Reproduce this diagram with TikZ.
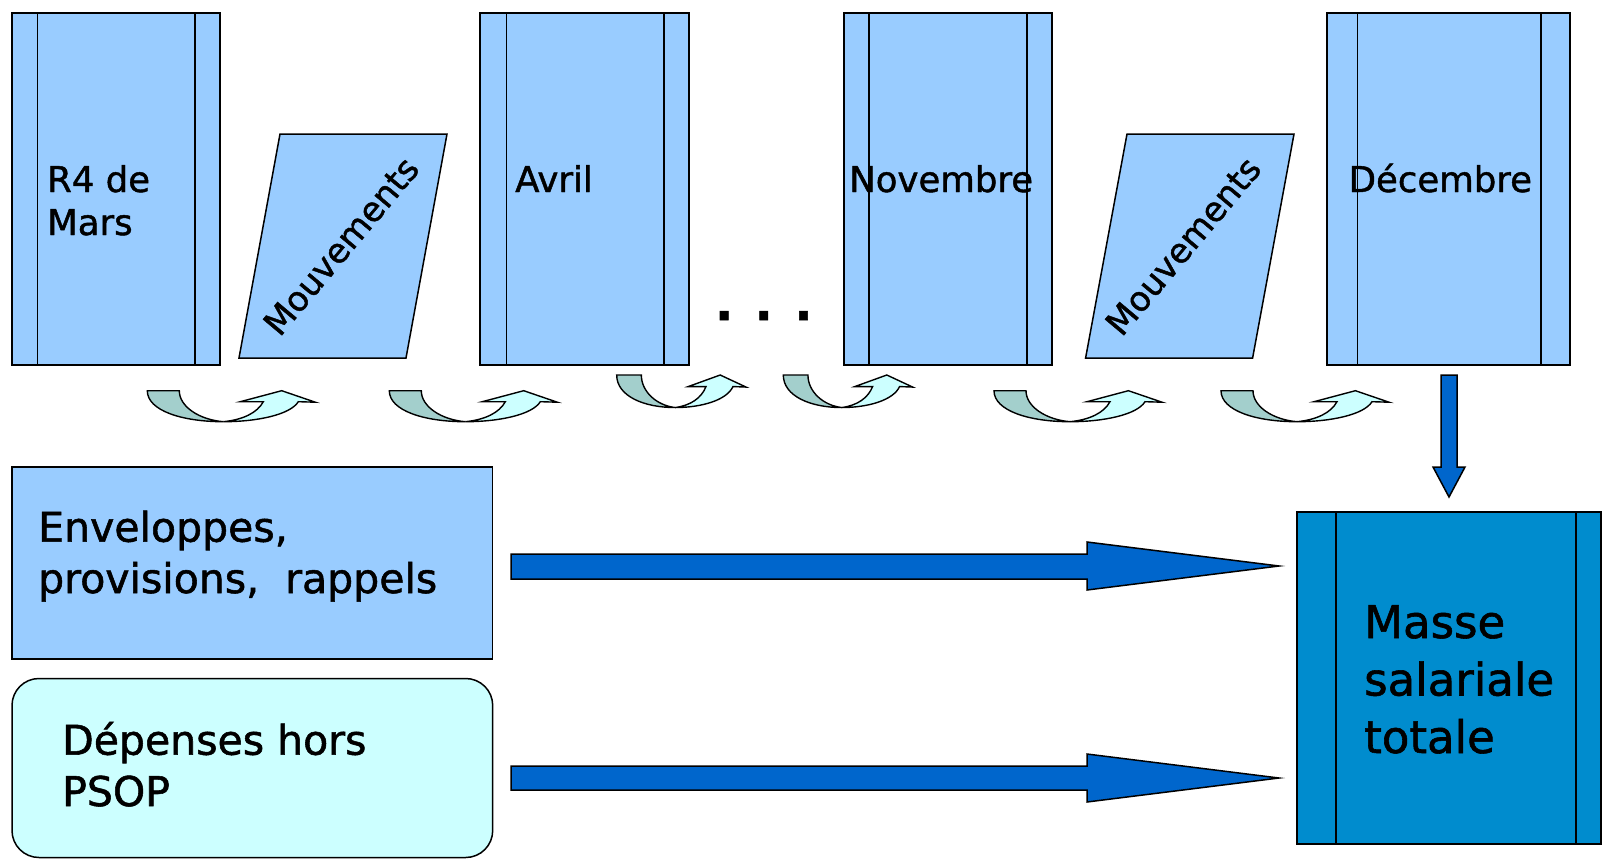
\documentclass[tikz,border=0pt]{standalone}
\usepackage{fontspec}
\setmainfont{DejaVu Sans}[FakeBold=1.3]
\usetikzlibrary{calc}
\definecolor{boxblue}{HTML}{99CCFF}
\definecolor{palecyan}{HTML}{CCFFFF}
\definecolor{massblue}{HTML}{008CCE}
\definecolor{arrowblue}{HTML}{0066CC}
\definecolor{tealback}{HTML}{A3CFCC}
\definecolor{cyanfront}{HTML}{CCFFFF}
\tikzset{
  monthbox/.style={draw=black, line width=1.5pt, fill=boxblue, rectangle, inner sep=0pt, minimum height=352pt},
  sideline/.style={draw=black, line width=1.5pt},
  lbl/.style={inner sep=0pt, anchor=base west, align=left, text=black},
  monthfont/.style={font=\fontsize{35.5}{43}\selectfont},
  parall/.style={draw=black, line width=1.5pt, fill=boxblue},
  blockarrow/.style={draw=black, line width=1.5pt, fill=arrowblue},
  uback/.style={draw=black, line width=1.4pt, fill=tealback},
  ufront/.style={draw=black, line width=1.4pt, fill=cyanfront},
}
\newcommand\mysidelines[3]{%
  \draw[sideline] ($(#1.north west)+(#2,0)$) -- ($(#1.south west)+(#2,0)$);
  \draw[sideline] ($(#1.north east)-(#3,0)$) -- ($(#1.south east)-(#3,0)$);}
\newcommand\mycurvedarrow[4]{%
  \begin{scope}[shift={(#1,#2)}, xscale=#3, yscale=#4]
    \path[uback] (0,0) .. controls (0,20) and (35,31) .. (76,31)
      .. controls (52,29) and (32,16) .. (32,0) -- cycle;
    \path[ufront] (76,31) .. controls (110,31) and (143,24) .. (151,11)
      -- (168,11.5) -- (134.4,0) -- (93,11) -- (116,11)
      .. controls (110,22) and (96,29) .. (76,31) -- cycle;
  \end{scope}}
\begin{document}
\begin{tikzpicture}[x=1pt, y=-1pt]
\useasboundingbox[fill=white] (0,0) rectangle (1603,859);

% month boxes
\node[monthbox, minimum width=208pt] (r4) at (116,189) {};
\mysidelines{r4}{26}{26}
\node[monthbox, minimum width=209pt] (avril) at (584.5,189) {};
\mysidelines{avril}{27}{26}
\node[monthbox, minimum width=208pt] (nov) at (948,189) {};
\mysidelines{nov}{25.5}{26}
\node[monthbox, minimum width=243pt] (dec) at (1448.5,189) {};
\mysidelines{dec}{31}{30}

% parallelograms
\path[parall] (280,134) -- (447,134) -- (406,358) -- (239,358) -- cycle;
\node[inner sep=0pt, rotate=50, font=\fontsize{34}{40}\selectfont] (mv1) at (341,246) {Mouvements};
\path[parall] (1127,134) -- (1294,134) -- (1252.6,358) -- (1085.6,358) -- cycle;
\node[inner sep=0pt, rotate=50, font=\fontsize{34}{40}\selectfont] (mv2) at (1183,246) {Mouvements};

% labels (base anchor = baseline of the last line)
\node[lbl, monthfont] (r4t) at (47,235) {R4 de\\Mars};
\node[lbl, monthfont] (avrilt) at (515,192) {Avril};
\node[lbl, monthfont] (novt) at (849,192) {Novembre};
\node[lbl, monthfont] (dect) at (1348.5,192) {Décembre};

% dots
\node[lbl, font=\fontsize{47}{50}\selectfont\bfseries] (dots) at (715,320) {. . .};

% curved arrows
\mycurvedarrow{147.3}{390.7}{1}{1}
\mycurvedarrow{389.3}{390.7}{1}{1}
\mycurvedarrow{616.7}{375}{0.77}{1.05}
\mycurvedarrow{783.3}{375}{0.77}{1.05}
\mycurvedarrow{994}{390.7}{1}{1}
\mycurvedarrow{1221}{390.7}{1}{1}

% lower boxes
\node[draw=black, line width=1.5pt, fill=boxblue, inner sep=0pt, minimum width=480.7pt, minimum height=192pt] (env) at (252.35,563) {};
\node[draw=black, line width=1.5pt, fill=palecyan, rounded corners=27pt, inner sep=0pt, minimum width=480.7pt, minimum height=179pt] (dep) at (252.35,768) {};
\node[lbl, font=\fontsize{41}{51.3}\selectfont] (envt) at (38,593) {Enveloppes,\\provisions,~ rappels};
\node[lbl, font=\fontsize{41}{51.3}\selectfont] (dept) at (62,806) {Dépenses hors\\PSOP};

% masse box
\node[draw=black, line width=1.8pt, fill=massblue, inner sep=0pt, minimum width=304pt, minimum height=332pt] (masse) at (1449,678) {};
\draw[line width=1.5pt] ($(masse.north west)+(40,0)$) -- ($(masse.south west)+(40,0)$);
\draw[line width=1.5pt] ($(masse.north east)-(26,0)$) -- ($(masse.south east)-(26,0)$);
\node[lbl, font=\fontsize{45}{57.5}\selectfont] (masset) at (1364,753) {Masse\\salariale\\totale};

% block arrows
\path[blockarrow] (511,554) -- (1087,554) -- (1087,542) -- (1279,566) -- (1087,590) -- (1087,579) -- (511,579) -- cycle;
\path[blockarrow] (511,766) -- (1087,766) -- (1087,754) -- (1279,778) -- (1087,802) -- (1087,790) -- (511,790) -- cycle;
\path[blockarrow] (1441,375) -- (1457,375) -- (1457,467) -- (1465,467) -- (1449,497) -- (1433,467) -- (1441,467) -- cycle;
\end{tikzpicture}
\end{document}
